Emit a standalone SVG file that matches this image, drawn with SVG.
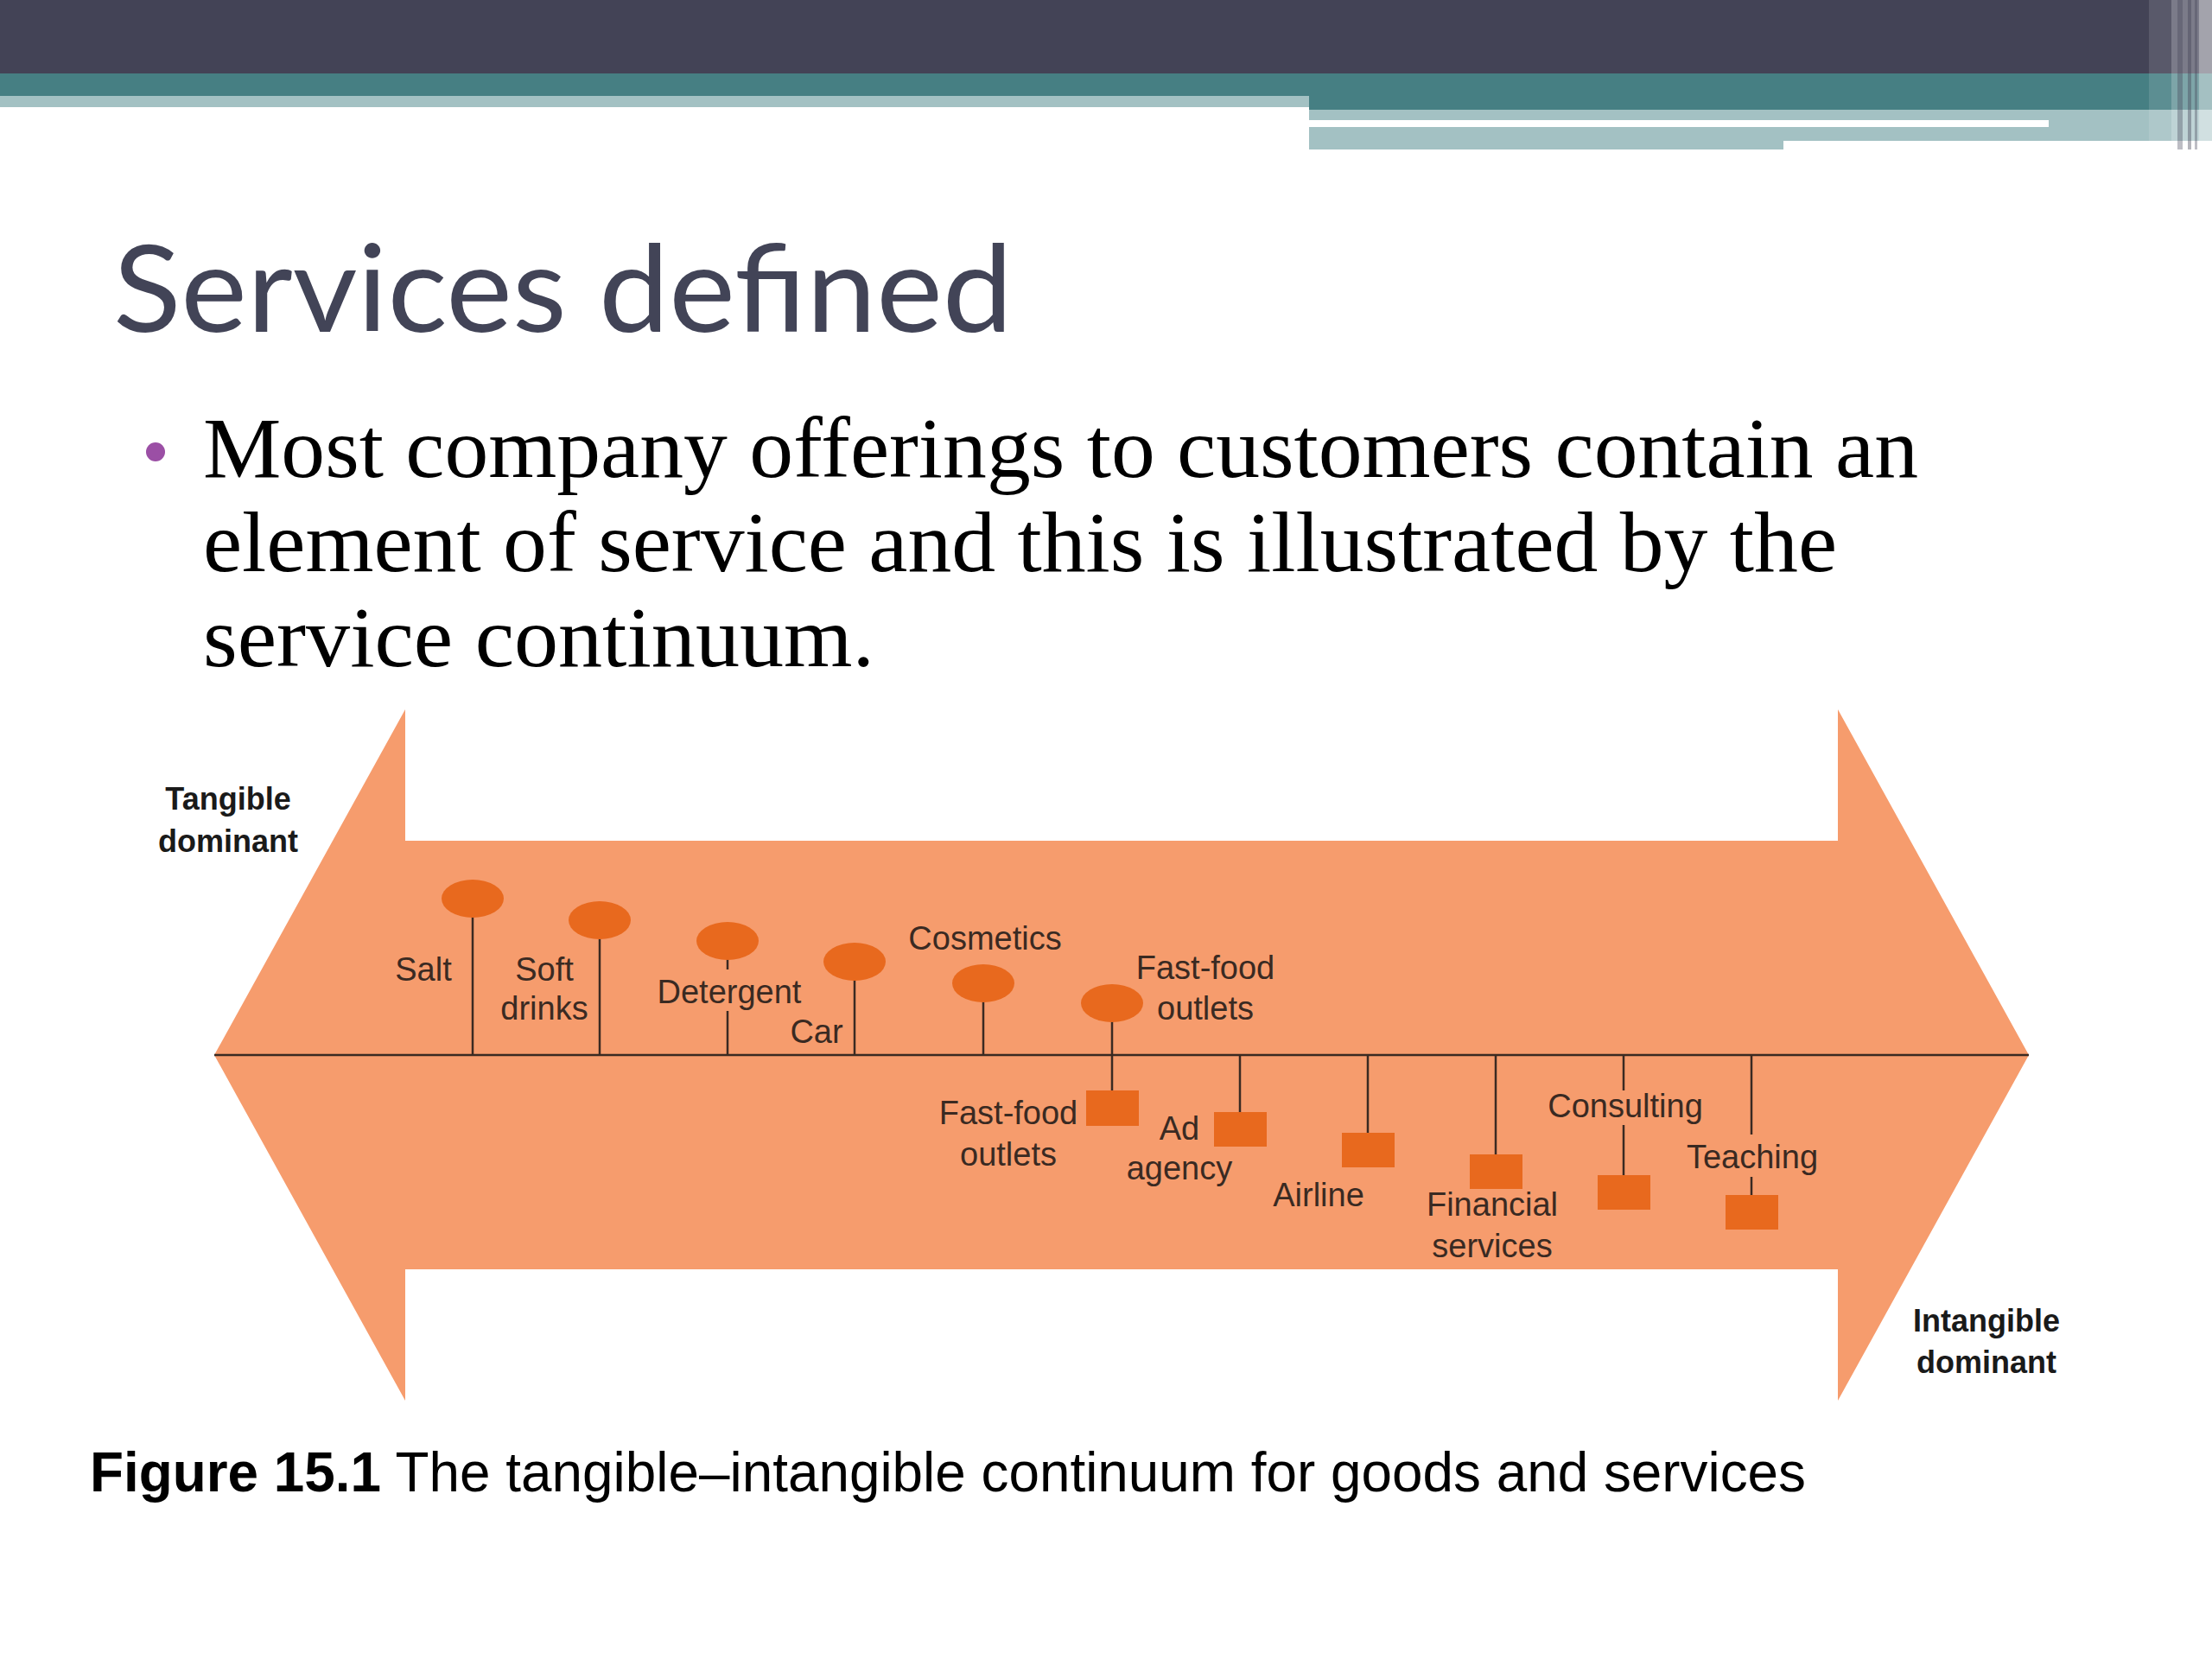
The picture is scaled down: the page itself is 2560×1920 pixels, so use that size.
<svg xmlns="http://www.w3.org/2000/svg" width="2560" height="1920" viewBox="0 0 2560 1920">
<style>
.lbl{font-family:"Liberation Sans",Arial,sans-serif;font-size:38px;fill:#3a2a22;text-anchor:middle}
.end{font-family:"Liberation Sans",Arial,sans-serif;font-size:36px;font-weight:bold;fill:#1a1a1a;text-anchor:middle}
.stem{stroke:#3a2a22;stroke-width:2.5;fill:none}
.dot{fill:#E8691E}
.sq{fill:#E8691E}
</style>
<rect width="2560" height="1920" fill="#ffffff"/>
<g id="header">
<rect x="0" y="0" width="2560" height="85" fill="#434356"/>
<rect x="0" y="85" width="2560" height="26" fill="#467f83"/>
<rect x="1515" y="111" width="1045" height="16" fill="#467f83"/>
<rect x="0" y="111" width="1515" height="13" fill="#a3c1c3"/>
<rect x="1515" y="127" width="1045" height="36" fill="#a3c1c3"/>
<rect x="1515" y="163" width="549" height="10" fill="#a3c1c3"/>
<rect x="1515" y="139" width="856" height="8" fill="#ffffff"/>
<rect x="2487" y="0" width="26" height="163" fill="#ffffff" opacity="0.12"/>
<rect x="2513" y="0" width="47" height="173" fill="#ffffff" opacity="0.3"/>
<rect x="2520" y="0" width="6" height="173" fill="#434356" opacity="0.35"/>
<rect x="2532" y="0" width="4" height="173" fill="#434356" opacity="0.4"/>
<rect x="2540" y="0" width="3" height="173" fill="#434356" opacity="0.35"/>
<rect x="2545" y="0" width="15" height="173" fill="#ffffff" opacity="0.3"/>
</g>
<g id="title">
<text x="131" y="384" font-family="Lato,'Open Sans',sans-serif" font-size="140" fill="#424457" textLength="1041" lengthAdjust="spacingAndGlyphs">Services defined</text>
</g>
<g id="bullet">
<circle cx="180" cy="523" r="11" fill="#9B4FA5"/>
<g font-family="'Liberation Serif','Times New Roman',serif" font-size="100" fill="#000000">
<text x="235" y="552" textLength="1985" lengthAdjust="spacingAndGlyphs">Most company offerings to customers contain an</text>
<text x="235" y="661" textLength="1891" lengthAdjust="spacingAndGlyphs">element of service and this is illustrated by the</text>
<text x="235" y="771" textLength="777" lengthAdjust="spacingAndGlyphs">service continuum.</text>
</g>
</g>
<g id="continuum-arrow">
<polygon points="248,1221 469,821 469,973 2127,973 2127,821 2348,1221 2127,1621 2127,1469 469,1469 469,1621" fill="#F69C6D"/>
</g>
<g id="connectors">
<line class="stem" x1="248" y1="1221" x2="2348" y2="1221" stroke-width="3"/>
<line class="stem" x1="547" y1="1060" x2="547" y2="1221"/>
<line class="stem" x1="694" y1="1085" x2="694" y2="1221"/>
<line class="stem" x1="842" y1="1109" x2="842" y2="1122"/>
<line class="stem" x1="842" y1="1170" x2="842" y2="1221"/>
<line class="stem" x1="989" y1="1133" x2="989" y2="1221"/>
<line class="stem" x1="1138" y1="1158" x2="1138" y2="1221"/>
<line class="stem" x1="1287" y1="1181" x2="1287" y2="1262"/>
<line class="stem" x1="1435" y1="1221" x2="1435" y2="1287"/>
<line class="stem" x1="1583" y1="1221" x2="1583" y2="1311"/>
<line class="stem" x1="1731" y1="1221" x2="1731" y2="1336"/>
<line class="stem" x1="1879" y1="1221" x2="1879" y2="1262"/>
<line class="stem" x1="1879" y1="1302" x2="1879" y2="1360"/>
<line class="stem" x1="2027" y1="1221" x2="2027" y2="1313"/>
<line class="stem" x1="2027" y1="1362" x2="2027" y2="1383"/>
</g>
<g id="salt"><ellipse class="dot" cx="547" cy="1040" rx="36" ry="22"/><text class="lbl" x="490" y="1135">Salt</text></g>
<g id="soft-drinks"><ellipse class="dot" cx="694" cy="1065" rx="36" ry="22"/><text class="lbl" x="630" y="1135">Soft</text><text class="lbl" x="630" y="1180">drinks</text></g>
<g id="detergent"><ellipse class="dot" cx="842" cy="1089" rx="36" ry="22"/><text class="lbl" x="844" y="1161">Detergent</text></g>
<g id="car"><ellipse class="dot" cx="989" cy="1113" rx="36" ry="22"/><text class="lbl" x="945" y="1207">Car</text></g>
<g id="cosmetics"><ellipse class="dot" cx="1138" cy="1138" rx="36" ry="22"/><text class="lbl" x="1140" y="1099">Cosmetics</text></g>
<g id="fast-food-goods"><ellipse class="dot" cx="1287" cy="1161" rx="36" ry="22"/><text class="lbl" x="1395" y="1133">Fast-food</text><text class="lbl" x="1395" y="1180">outlets</text></g>
<g id="fast-food-service"><rect class="sq" x="1257" y="1262" width="61" height="41"/><text class="lbl" x="1167" y="1301">Fast-food</text><text class="lbl" x="1167" y="1349">outlets</text></g>
<g id="ad-agency"><rect class="sq" x="1405" y="1287" width="61" height="40"/><text class="lbl" x="1365" y="1319">Ad</text><text class="lbl" x="1365" y="1365">agency</text></g>
<g id="airline"><rect class="sq" x="1553" y="1311" width="61" height="40"/><text class="lbl" x="1526" y="1396">Airline</text></g>
<g id="financial-services"><rect class="sq" x="1701" y="1336" width="61" height="40"/><text class="lbl" x="1727" y="1407">Financial</text><text class="lbl" x="1727" y="1455">services</text></g>
<g id="consulting"><rect class="sq" x="1849" y="1360" width="61" height="40"/><text class="lbl" x="1881" y="1293">Consulting</text></g>
<g id="teaching"><rect class="sq" x="1997" y="1383" width="61" height="40"/><text class="lbl" x="2028" y="1352">Teaching</text></g>
<g id="tangible-dominant"><text class="end" x="264" y="937">Tangible</text><text class="end" x="264" y="986">dominant</text></g>
<g id="intangible-dominant"><text class="end" x="2299" y="1541">Intangible</text><text class="end" x="2299" y="1589">dominant</text></g>
<g id="caption">
<text x="104" y="1726" font-family="'Liberation Sans',Arial,sans-serif" font-size="64" fill="#000000" textLength="1986" lengthAdjust="spacingAndGlyphs"><tspan font-weight="bold">Figure 15.1</tspan> The tangible–intangible continuum for goods and services</text>
</g>
</svg>
